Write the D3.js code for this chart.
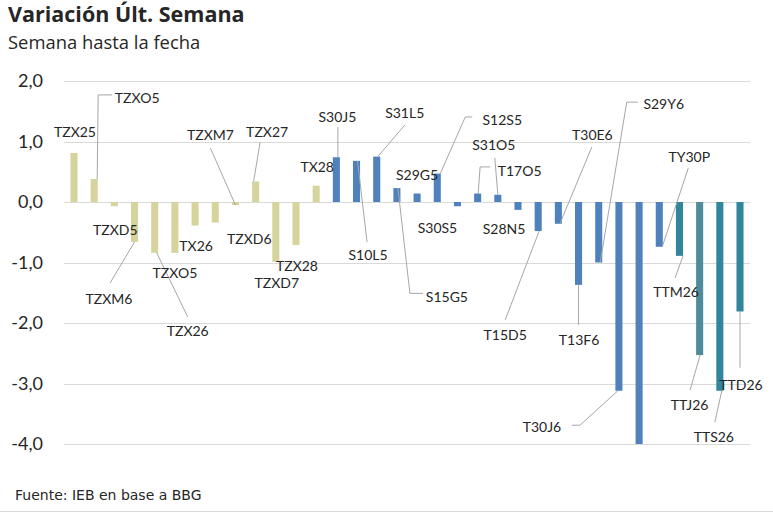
<!DOCTYPE html>
<html>
<head>
<meta charset="utf-8">
<script src="https://cdn.jsdelivr.net/npm/d3@7"></script>
<style>
  body { margin: 0; background: #fff; }
  text { font-family: Lato, "Open Sans", sans-serif; fill: #262626; }
</style>
</head>
<body>
<svg id="chart" width="773" height="514"></svg>
<script>
// bonos / letras
const bonos = ["TZX25","TZXO5","TZXD5","TZXM6","TZX26","TZXO5","TX26","TZXD6","TZXM7","TZX27","TZXD7","TZX28","TX28",
  "S30J5","S10L5","S31L5","S15G5","S29G5","S12S5","S30S5","T17O5","S31O5","S28N5","T15D5","T30E6","T13F6","S29Y6","T30J6","",
  "TY30P","TTM26","TTJ26","TTS26","TTD26"];
// variacion semanal (%)
const variacion = [0.81,0.38,-0.07,-0.66,-0.84,-0.84,-0.39,-0.34,-0.05,0.34,-0.99,-0.71,0.27,
  0.74,0.68,0.75,0.23,0.14,0.47,-0.07,0.14,0.12,-0.13,-0.48,-0.36,-1.37,-1.0,-3.12,-4.0,
  -0.74,-0.89,-2.53,-3.12,-1.81];
const grupo = ["CER","CER","CER","CER","CER","CER","CER","CER","CER","CER","CER","CER","CER",
  "Fija","Fija","Fija","Fija","Fija","Fija","Fija","Fija","Fija","Fija","Fija","Fija","Fija","Fija","Fija","Fija",
  "Fija","Dual","Dual2","Dual","Dual"];
const yTicks = [2,1,0,-1,-2,-3,-4];

// donde va cada etiqueta: [dx desde el centro de la barra, valor y de la base del texto]
const labelPos = [[1,1.07],[43,1.64],[1,-0.545],[-25.5,-1.686],[33,-2.215],[0,-1.256],[1,-0.81],[34,-0.694],[-25,1.025],[11.5,1.07],[1,-1.42],[1,-1.14],[1,0.496],
  [1,1.32],[11.5,-0.96],[28,1.39],[50,-1.65],[0,0.364],[65,1.27],[-20,-0.51],[42,0.43],[-4,0.86],[-14,-0.53],[-33,-2.28],[34,1.025],[0.5,-2.36],[65,1.54],[-77,-3.8],[0,0],
  [30,0.66],[-3.4,-1.57],[-10,-3.44],[-6,-3.97],[1,-3.11]];
// lineas guia (null = extremo de la barra)
const leaders = {
  1: [[3,null],[4,1.77],[18,1.77]],
  3: [[0,null],[-24.5,-1.34]],
  4: [[2,null],[33,-1.9]],
  8: [[0,null],[-25,0.89]],
  9: [[-2,null],[4.5,0.99]],
  13: [[1.5,null],[1.5,1.24]],
  14: [[1,null],[10.5,-0.66]],
  15: [[1,null],[28,1.27]],
  16: [[1,null],[13,-1.51],[26,-1.51]],
  18: [[3,null],[28,1.405],[35,1.405]],
  20: [[0.5,null],[2.5,0.58],[12.5,0.58]],
  21: [[0,null],[-3,0.727]],
  23: [[1,null],[-33,-1.95]],
  24: [[1.5,null],[33.5,0.91]],
  25: [[0,null],[0,-2.03]],
  26: [[1.5,null],[28,1.65],[39,1.65]],
  27: [[-1,null],[-39,-3.69],[-47,-3.69]],
  29: [[3,null],[29,0.56]],
  30: [[3.6,null],[-4.4,-1.256]],
  31: [[0.5,null],[-9.6,-3.11]],
  32: [[2,null],[-5,-3.64]],
  33: [[0,null],[0,-2.74]]
};

const svg = d3.select("#chart");
svg.append("rect").attr("width", 773).attr("height", 514).attr("fill", "#fff");

const x = d3.scaleBand()
  .domain(d3.range(variacion.length))
  .range([64, 750])
  .paddingInner(0.65)
  .paddingOuter(0.32);

const y = d3.scaleLinear().domain([-4, 2]).range([444, 81]);

const color = d3.scaleOrdinal()
  .domain(["CER","Fija","Dual","Dual2"])
  .range(["#d6d49c","#4f81bd","#31859c","#4f8c9b"]);

// grilla
svg.append("g").selectAll("line")
  .data(yTicks)
  .join("line")
  .attr("x1", 64).attr("x2", 750)
  .attr("y1", d => Math.round(y(d)) + 0.5).attr("y2", d => Math.round(y(d)) + 0.5)
  .attr("stroke", "#d9d9d9");

const yAxis = d3.axisLeft(y).tickValues(yTicks)
  .tickFormat(d => d3.format(".1f")(d).replace(".", ",").replace("−", "-"))
  .tickSize(0).tickPadding(0);
svg.append("g")
  .attr("transform", "translate(43,0)")
  .call(yAxis)
  .call(g => g.select(".domain").remove())
  .selectAll("text")
  .style("font-size", "18px")
  .style("font-family", "Lato, sans-serif")
  .attr("fill", "#262626");

// barras
svg.append("g").selectAll("rect")
  .data(variacion)
  .join("rect")
  .attr("x", (d, i) => x(i))
  .attr("width", x.bandwidth())
  .attr("y", d => y(Math.max(0, d)))
  .attr("height", d => Math.abs(y(d) - y(0)))
  .attr("fill", (d, i) => color(grupo[i]));

// guias
const cx = i => x(i) + x.bandwidth() / 2;
const line = d3.line();
svg.append("g").selectAll("path")
  .data(Object.entries(leaders))
  .join("path")
  .attr("d", ([k, pts]) => {
    const i = +k;
    return line(pts.map(p => [cx(i) + p[0], y(p[1] === null ? variacion[i] : p[1])]));
  })
  .attr("fill", "none")
  .attr("stroke", "#a6a6a6")
  .attr("stroke-width", 1);

// etiquetas
svg.append("g").selectAll("text")
  .data(bonos)
  .join("text")
  .attr("x", (d, i) => cx(i) + labelPos[i][0])
  .attr("y", (d, i) => y(labelPos[i][1]))
  .attr("text-anchor", "middle")
  .style("font-size", "14px")
  .text(d => d);

svg.append("text").attr("x", 8).attr("y", 22)
  .style("font-family", "'Open Sans', sans-serif")
  .style("font-size", "21.5px").style("font-weight", "bold")
  .text("Variación Últ. Semana");
svg.append("text").attr("x", 8).attr("y", 48.5)
  .style("font-family", "'Open Sans', sans-serif")
  .style("font-size", "18.4px")
  .text("Semana hasta la fecha");
svg.append("text").attr("x", 15).attr("y", 500)
  .style("font-family", "'DejaVu Sans', sans-serif")
  .style("font-size", "14px")
  .text("Fuente: IEB en base a BBG");

svg.append("line").attr("x1", 0).attr("x2", 773).attr("y1", 511.5).attr("y2", 511.5)
  .attr("stroke", "#d9d9d9");
</script>
</body>
</html>
